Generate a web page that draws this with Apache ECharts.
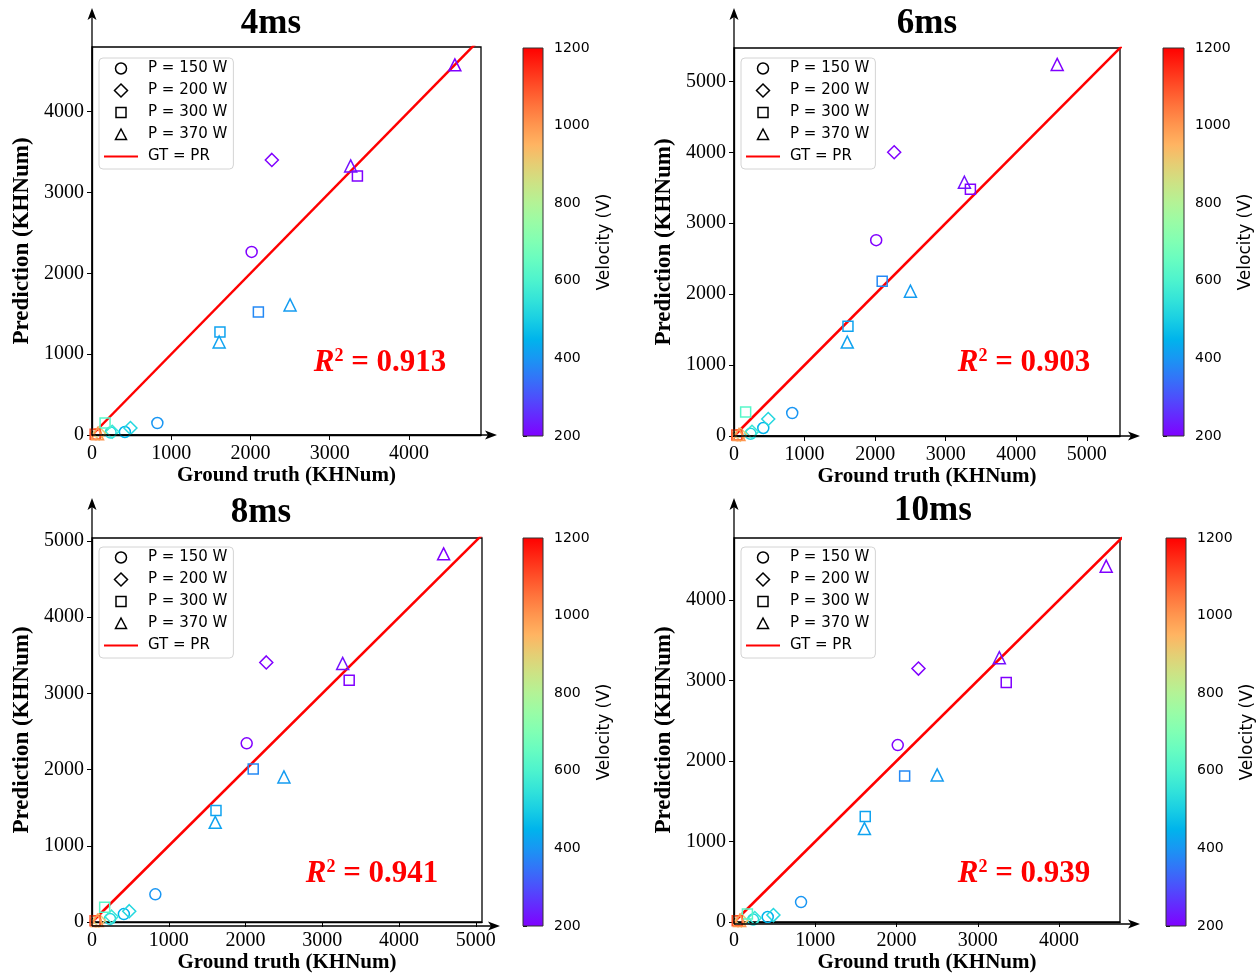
<!DOCTYPE html>
<html>
<head>
<meta charset="utf-8">
<script src="https://cdn.jsdelivr.net/npm/echarts@6/dist/echarts.min.js"></script>
<style>
html,body{margin:0;padding:0;background:#fff;}
#main{width:1259px;height:974px;}
</style>
</head>
<body>
<div id="main"></div>
<script>
// ground truth (same for every panel) and velocity of each sample
var gtP150 = [2015, 825, 415, 235, 50];
var velP150 = [200, 400, 450, 520, 1000];
var gtP200 = [2270, 485, 255, 90];
var velP200 = [200, 520, 560, 900];
var gtP300 = [3350, 2100, 1615, 165, 40];
var velP300 = [200, 380, 420, 620, 1100];
var gtP370 = [4580, 3265, 2500, 1605, 70];
var velP370 = [200, 220, 410, 420, 1000];

// predictions per panel
var pred4_150 = [2265, 148, 37, 30, 10];
var pred4_200 = [3403, 87, 40, 20];
var pred4_300 = [3205, 1522, 1275, 150, 10];
var pred4_370 = [4579, 3329, 1609, 1151, 15];

var pred6_150 = [2761, 324, 113, 30, 10];
var pred6_200 = [4000, 239, 60, 20];
var pred6_300 = [3479, 2183, 1549, 338, 15];
var pred6_370 = [5239, 3577, 2042, 1324, 20];

var pred8_150 = [2345, 363, 104, 40, 10];
var pred8_200 = [3407, 142, 70, 20];
var pred8_300 = [3174, 2008, 1464, 194, 15];
var pred8_370 = [4832, 3394, 1904, 1308, 20];

var pred10_150 = [2198, 247, 62, 30, 10];
var pred10_200 = [3148, 86, 50, 20];
var pred10_300 = [2975, 1815, 1309, 100, 15];
var pred10_370 = [4420, 3284, 1827, 1160, 20];

var titles = ['4ms', '6ms', '8ms', '10ms'];
var r2Values = ['0.913', '0.903', '0.941', '0.939'];
var powerNames = ['P = 150 W', 'P = 200 W', 'P = 300 W', 'P = 370 W'];
var lineName = 'GT = PR';
var identityLine = [0, 6000];
var velRange = [200, 1200];

var gts = [gtP150, gtP200, gtP300, gtP370];
var vels = [velP150, velP200, velP300, velP370];
var preds = [
  [pred4_150, pred4_200, pred4_300, pred4_370],
  [pred6_150, pred6_200, pred6_300, pred6_370],
  [pred8_150, pred8_200, pred8_300, pred8_370],
  [pred10_150, pred10_200, pred10_300, pred10_370]
];

// layout of each panel
var layout = [
  {gx:92, gy:47, gw:389, gh:388, xMax:4910, yMax:4800, cbx:523, cby:48, cbw:20, cbh:388, tx:271, ty:24, rx:380, ry:363, top:8, right:497, lx:99, ly:58},
  {gx:734, gy:48, gw:386, gh:388, xMax:5470, yMax:5470, cbx:1163, cby:48, cbw:21, cbh:388, tx:927, ty:24, rx:1024, ry:363, top:8, right:1140, lx:741, ly:58},
  {gx:92, gy:538, gw:390, gh:388, xMax:5080, yMax:5040, cbx:523, cby:538, cbw:20, cbh:388, tx:261, ty:513, rx:372, ry:874, top:498, right:500, lx:99, ly:547},
  {gx:734, gy:538, gw:386, gh:386, xMax:4750, yMax:4770, cbx:1166, cby:538, cbw:20, cbh:388, tx:933, ty:511, rx:1024, ry:874, top:498, right:1140, lx:741, ly:547}
];

var symbols = ['circle', 'diamond', 'rect', 'triangle'];
var symbolSizes = [11, 13, 10, 12];
// legend icons drawn inside a 34x13 box so they are not stretched
var legendIcons = [
  'path://M0,0M34,13M22.5,6.5A5.5,5.5,0,1,1,11.5,6.5A5.5,5.5,0,1,1,22.5,6.5Z',
  'path://M0,0M34,13M17,0L23.5,6.5L17,13L10.5,6.5Z',
  'path://M0,0M34,13M12,1.5L22,1.5L22,11.5L12,11.5Z',
  'path://M0,0M34,13M17,1L22.5,11.5L11.5,11.5Z'
];
var serif = 'Liberation Serif';
var sans = 'DejaVu Sans';

// matplotlib "rainbow" colormap
function rainbow(t) {
  var r = Math.min(1, Math.abs(2 * t - 0.5));
  var g = Math.sin(Math.PI * t);
  var b = Math.cos(Math.PI * t / 2);
  return 'rgb(' + Math.round(r * 255) + ',' + Math.round(g * 255) + ',' + Math.round(b * 255) + ')';
}
function velColor(v) {
  return rainbow((v - velRange[0]) / (velRange[1] - velRange[0]));
}
function plain(v) { return String(v); }

var grids = [], xAxes = [], yAxes = [], series = [], legends = [], graphics = [];

layout.forEach(function (L, p) {
  var gi = grids.length;
  grids.push({left: L.gx, top: L.gy, width: L.gw, height: L.gh, show: true, borderColor: '#000', borderWidth: 1.3, backgroundColor: 'transparent'});
  xAxes.push({
    gridIndex: gi, type: 'value', min: 0, max: L.xMax, interval: 1000,
    splitLine: {show: false},
    axisLine: {show: true, lineStyle: {color: '#000', width: 1.3}},
    axisTick: {show: true, length: 5, lineStyle: {color: '#000', width: 1}},
    axisLabel: {showMaxLabel: false, color: '#000', fontFamily: serif, fontSize: 20, margin: 9, formatter: plain},
    name: 'Ground truth (KHNum)', nameLocation: 'middle', nameGap: 30,
    nameTextStyle: {color: '#000', fontFamily: serif, fontWeight: 'bold', fontSize: 21}
  });
  yAxes.push({
    gridIndex: gi, type: 'value', min: 0, max: L.yMax, interval: 1000,
    splitLine: {show: false},
    axisLine: {show: true, lineStyle: {color: '#000', width: 1.3}},
    axisTick: {show: true, length: 5, lineStyle: {color: '#000', width: 1}},
    axisLabel: {showMaxLabel: false, color: '#000', fontFamily: serif, fontSize: 20, margin: 8, formatter: plain},
    name: 'Prediction (KHNum)', nameLocation: 'middle', nameGap: 58,
    nameTextStyle: {color: '#000', fontFamily: serif, fontWeight: 'bold', fontSize: 23}
  });

  // identity line
  series.push({
    type: 'line', name: lineName, xAxisIndex: gi, yAxisIndex: gi,
    data: [[identityLine[0], identityLine[0]], [identityLine[1], identityLine[1]]],
    symbol: 'none', clip: true, z: 2,
    itemStyle: {color: '#ff0000'},
    lineStyle: {color: '#ff0000', width: 2.5}
  });

  for (var k = 0; k < 4; k++) {
    var pts = gts[k].map(function (g, j) {
      return {
        value: [g, preds[p][k][j], vels[k][j]],
        itemStyle: {borderColor: velColor(vels[k][j])}
      };
    });
    series.push({
      type: 'scatter', name: powerNames[k], xAxisIndex: gi, yAxisIndex: gi,
      symbol: symbols[k], symbolSize: symbolSizes[k], z: 3,
      itemStyle: {color: 'rgba(0,0,0,0)', borderWidth: 1.5, opacity: 1},
      data: pts
    });
  }

  var legendData = powerNames.map(function (n, k) {
    return {name: n, icon: legendIcons[k], itemStyle: {color: 'rgba(0,0,0,0)', borderColor: '#000', borderWidth: 1.5}};
  });
  legendData.push({name: lineName, itemStyle: {color: 'rgba(0,0,0,0)', borderColor: 'rgba(0,0,0,0)', borderWidth: 0}});
  legends.push({
    orient: 'vertical', left: L.lx, top: L.ly,
    padding: [3, 6, 5, 4], itemGap: 7, itemWidth: 34, itemHeight: 13,
    backgroundColor: 'rgba(255,255,255,0.85)', borderColor: '#d4d4d4', borderWidth: 1, borderRadius: 4,
    selectedMode: false,
    textStyle: {color: '#000', fontFamily: sans, fontSize: 15, padding: [0, 0, 0, 5]},
    data: legendData
  });

  // colorbar axis
  var ci = grids.length;
  grids.push({left: L.cbx, top: L.cby, width: L.cbw, height: L.cbh, show: false});
  xAxes.push({gridIndex: ci, type: 'value', show: false, min: 0, max: 1});
  yAxes.push({
    gridIndex: ci, type: 'value', position: 'right', min: velRange[0], max: velRange[1], interval: 200,
    splitLine: {show: false}, axisLine: {show: false},
    axisTick: {show: true, length: 4, lineStyle: {color: '#000'}},
    axisLabel: {color: '#000', fontFamily: sans, fontSize: 14, margin: 11, formatter: plain},
    name: 'Velocity (V)', nameLocation: 'middle', nameGap: 53,
    nameTextStyle: {color: '#000', fontFamily: sans, fontSize: 17}
  });

  var stops = [];
  for (var s = 0; s <= 20; s++) stops.push({offset: s / 20, color: rainbow(s / 20)});
  graphics.push({
    type: 'rect', z: 1,
    shape: {x: L.cbx, y: L.cby, width: L.cbw, height: L.cbh},
    style: {fill: new echarts.graphic.LinearGradient(0, 1, 0, 0, stops), stroke: '#333', lineWidth: 1}
  });

  // axis arrows
  var ox = L.gx, oy = L.gy + L.gh;
  graphics.push({type: 'line', z: 5, shape: {x1: ox, y1: oy, x2: ox, y2: L.top + 6}, style: {stroke: '#000', lineWidth: 1.3}});
  graphics.push({type: 'polygon', z: 5, shape: {points: [[ox, L.top], [ox - 4.5, L.top + 12], [ox, L.top + 9], [ox + 4.5, L.top + 12]]}, style: {fill: '#000'}});
  graphics.push({type: 'line', z: 5, shape: {x1: ox, y1: oy, x2: L.right - 6, y2: oy}, style: {stroke: '#000', lineWidth: 1.3}});
  graphics.push({type: 'polygon', z: 5, shape: {points: [[L.right, oy], [L.right - 12, oy - 4.5], [L.right - 9, oy], [L.right - 12, oy + 4.5]]}, style: {fill: '#000'}});

  // title
  graphics.push({
    type: 'text', z: 5, x: L.tx, y: L.ty,
    style: {text: titles[p], fontFamily: serif, fontWeight: 'bold', fontSize: 35, fill: '#000', align: 'center', verticalAlign: 'middle'}
  });
  // R^2 annotation
  graphics.push({
    type: 'text', z: 5, x: L.rx, y: L.ry,
    style: {
      text: '{r|R}{s|2}{t| = ' + r2Values[p] + '}',
      align: 'center', verticalAlign: 'middle',
      rich: {
        r: {fontFamily: serif, fontStyle: 'italic', fontWeight: 'bold', fontSize: 31, fill: '#ff0000'},
        s: {fontFamily: serif, fontWeight: 'bold', fontSize: 18, fill: '#ff0000', verticalAlign: 'top'},
        t: {fontFamily: serif, fontWeight: 'bold', fontSize: 31, fill: '#ff0000'}
      }
    }
  });
});

var chart = echarts.init(document.getElementById('main'), null, {renderer: 'canvas'});
chart.setOption({
  animation: false,
  backgroundColor: '#fff',
  grid: grids,
  xAxis: xAxes,
  yAxis: yAxes,
  legend: legends,
  series: series,
  graphic: graphics
});
</script>
</body>
</html>
